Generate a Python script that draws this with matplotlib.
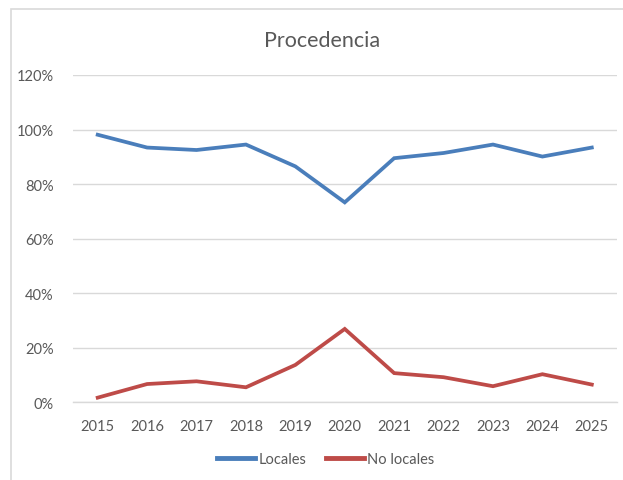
import matplotlib.pyplot as plt
from matplotlib.patches import Rectangle
from matplotlib.ticker import PercentFormatter

# Data
years = ["2015", "2016", "2017", "2018", "2019", "2020",
         "2021", "2022", "2023", "2024", "2025"]
locales = [0.981, 0.934, 0.925, 0.945, 0.865, 0.733,
           0.895, 0.914, 0.945, 0.901, 0.934]
no_locales = [0.017, 0.067, 0.077, 0.055, 0.137, 0.269,
              0.107, 0.092, 0.059, 0.103, 0.065]

BLUE = "#4a7ebb"
RED = "#be4b48"
GRID = "#d9d9d9"
TEXT = "#595959"
FONT = ["Lato", "DejaVu Sans"]

plt.rcParams["font.family"] = FONT

W, H = 623, 481
fig = plt.figure(figsize=(W / 100, H / 100), dpi=100)

# chart area border (only left and top edges fall inside the image)
fig.patches.append(Rectangle((11 / W, -0.5), 2, 1.5 - 10 / H, transform=fig.transFigure,
                             fill=False, edgecolor=GRID, linewidth=1.2, clip_on=False))

left, right = 73 / W, 616.5 / W
bottom, top = 1 - 403.3 / H, 1 - 76 / H
ax = fig.add_axes([left, bottom, right - left, top - bottom])

x = list(range(len(years)))
ax.plot(x, locales, color=BLUE, linewidth=2.7, label="Locales", solid_joinstyle="miter")
ax.plot(x, no_locales, color=RED, linewidth=2.7, label="No locales", solid_joinstyle="miter")

ax.set_xlim(-0.5, len(years) - 0.5)
ax.set_ylim(0, 1.2)
ax.set_yticks([0, 0.2, 0.4, 0.6, 0.8, 1.0, 1.2])
ax.yaxis.set_major_formatter(PercentFormatter(1.0, decimals=0))
ax.set_xticks(x)
ax.set_xticklabels(years)

ax.grid(axis="y", color=GRID, linewidth=1.0)
ax.set_axisbelow(True)
for side in ["top", "right", "left"]:
    ax.spines[side].set_visible(False)
ax.spines["bottom"].set_color(GRID)
ax.spines["bottom"].set_linewidth(1.0)
ax.tick_params(axis="both", length=0, colors=TEXT, labelsize=10.5)
ax.tick_params(axis="y", pad=14)
ax.tick_params(axis="x", pad=12)

fig.text(322 / W, 1 - 41 / H, "Procedencia", ha="center", va="center",
         fontsize=15.5, color=TEXT)

leg = fig.legend(loc="center", bbox_to_anchor=(326 / W, 1 - 460 / H), ncol=2,
                 frameon=False, fontsize=10.5, labelcolor=TEXT, handlelength=2.6,
                 handletextpad=0.25, columnspacing=1.3)
for line in leg.get_lines():
    line.set_linewidth(3.5)

fig.savefig("out.png", dpi=100)
